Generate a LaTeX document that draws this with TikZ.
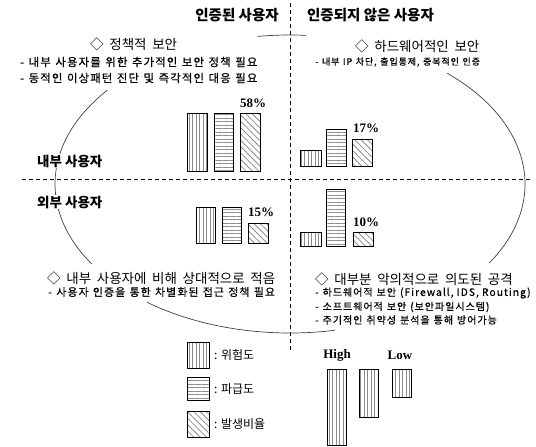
\documentclass[tikz,border=0pt]{standalone}
\usepackage{fontspec}
\setmainfont{Noto Sans CJK KR}
\newfontfamily\krfont{Noto Sans CJK KR}
\newfontfamily\krsub[LetterSpace=10,FakeBold=0.6]{Noto Sans CJK KR}
\newfontfamily\serifb{Liberation Serif}
\newcommand{\lat}[2]{{\krsub\fontsize{#1}{12}\selectfont\spaceskip=0.3em\relax #2}}
\newcommand{\myheadfont}{\krfont\fontsize{13.5}{15}\selectfont\spaceskip=0.42em\relax}
\newcommand{\mysubfont}{\krsub\fontsize{11.4}{13}\selectfont\spaceskip=0.4em\relax}
\newcommand{\mysubfontS}{\krsub\fontsize{10.9}{13}\selectfont\spaceskip=0.4em\relax}
\newcommand{\mysubfontR}{\krsub\fontsize{10}{12}\selectfont\spaceskip=0.4em\relax}
\newcommand{\mysubfontT}{\krsub\fontsize{9}{11}\selectfont\spaceskip=0.4em\relax}
\usetikzlibrary{patterns.meta}
\begin{document}
\begin{tikzpicture}[x=1pt,y=1pt,
  hdr/.style={font=\krfont\bfseries\fontsize{14.5}{16}\selectfont, inner sep=0pt},
  side/.style={font=\krfont\bfseries\fontsize{13.5}{15}\selectfont, inner sep=1pt, fill=white, anchor=west},
  head/.style={font=\myheadfont, inner sep=0pt, anchor=west},
  sub/.style={font=\mysubfont, inner sep=0pt, anchor=west},
  subR/.style={font=\mysubfontR, inner sep=0pt, anchor=west},
  pct/.style={font=\serifb\bfseries\fontsize{13}{15}\selectfont, inner sep=0pt},
  leg/.style={font=\krfont\fontsize{12}{14}\selectfont, inner sep=0pt, anchor=west},
  bar/.style={draw=black, line width=0.8pt},
  riskbar/.style={bar, pattern={Lines[angle=90,distance=3.5pt,line width=0.7pt]}, pattern color=black!45},
  spreadbar/.style={bar, pattern={Lines[angle=0,distance=3.5pt,line width=0.7pt]}, pattern color=black!45},
  ratebar/.style={bar, pattern={Lines[angle=-45,distance=4.5pt,line width=0.8pt]}, pattern color=black!45},
  divider/.style={dash pattern=on 4pt off 3pt, line width=0.8pt},
  ell/.style={line width=0.7pt, draw=black!75},
]
\useasboundingbox (0,0) rectangle (536,-447);

% dividers
\coordinate (vtop) at (290,-3);
\coordinate (vbot) at (290,-352);
\coordinate (hl) at (22,-179);
\coordinate (hr) at (532,-179);
\draw[divider] (vtop) -- (vbot);
\draw[divider] (hl) -- (hr);

% broken ellipse
\coordinate (ec) at (290,-184);
\draw[ell] ([shift={(86:235 and 149)}]ec) arc[start angle=86,end angle=98,x radius=235,y radius=149];
\draw[ell] ([shift={(-32:235 and 149)}]ec) arc[start angle=-32,end angle=48,x radius=235,y radius=149];
\draw[ell] ([shift={(-127.5:235 and 149)}]ec) arc[start angle=-127.5,end angle=-79,x radius=235,y radius=149];
\draw[ell] ([shift={(141:235 and 149)}]ec) arc[start angle=141,end angle=212.5,x radius=235,y radius=149];

% headers
\node[hdr] (hA) at (237,-15) {인증된 사용자};
\node[hdr] (hB) at (370.5,-15) {인증되지 않은 사용자};
\node[side] (inU) at (36,-161) {내부 사용자};
\node[side] (outU) at (36,-202) {외부 사용자};

% quadrant texts
\node[head] (h1) at (90,-44) {◇ 정책적 보안};
\node[sub] (s1a) at (20,-62) {- 내부 사용자를 위한 추가적인 보안 정책 필요};
\node[sub] (s1b) at (20,-78) {- 동적인 이상패턴 진단 및 즉각적인 대응 필요};

\node[head] (h2) at (355,-46) {◇ 하드웨어적인 보안};
\node[subR, font=\mysubfontT] (s2) at (315,-62) {- 내부 IP 차단, 출입통제, 중복적인 인증};

\node[head] (h3) at (47,-278) {◇ 내부 사용자에 비해 상대적으로 적음};
\node[sub, font=\mysubfontS] (s3) at (48,-292) {- 사용자 인증을 통한 차별화된 접근 정책 필요};

\node[head] (h4) at (315,-279) {◇ 대부분 악의적으로 의도된 공격};
\node[subR] (s4a) at (315,-293) {- 하드웨어적 보안 \lat{10.3}{(Firewall, IDS, Routing)}};
\node[subR] (s4b) at (315,-307) {- 소프트웨어적 보안 (보안파일시스템)};
\node[subR] (s4c) at (315,-320) {- 주기적인 취약성 분석을 통해 방어가능};

% bars: inner authenticated
\draw[riskbar] (187,-113) rectangle (207,-171);
\draw[spreadbar] (214,-113) rectangle (233,-171);
\draw[ratebar] (240,-113) rectangle (260,-171);
\node[pct] (p58) at (253,-103) {58\%};
% inner unauthenticated
\draw[riskbar] (300,-150) rectangle (321,-166);
\draw[spreadbar] (326,-129) rectangle (346,-166);
\draw[ratebar] (352,-139) rectangle (372,-166);
\node[pct] (p17) at (366,-128) {17\%};
% outer authenticated
\draw[riskbar] (196,-207) rectangle (215,-243);
\draw[spreadbar] (222,-207) rectangle (241,-243);
\draw[ratebar] (248,-223) rectangle (268,-243);
\node[pct] (p15) at (261,-212) {15\%};
% outer unauthenticated
\draw[riskbar] (300,-232) rectangle (321,-246);
\draw[spreadbar] (326,-189) rectangle (345,-246);
\draw[ratebar] (353,-232) rectangle (373,-246);
\node[pct] (p10) at (366,-222) {10\%};

% legend
\draw[riskbar] (187,-342) rectangle (209,-368);
\draw[spreadbar] (187,-377) rectangle (209,-400);
\draw[ratebar] (187,-411) rectangle (209,-437);
\node[leg] (l1) at (214,-355) {: 위험도};
\node[leg] (l2) at (214,-389) {: 파급도};
\node[leg] (l3) at (214,-424) {: 발생비율};

% high / low scale
\node[pct] (hi) at (337,-355) {High};
\node[pct] (lo) at (400,-355) {Low};
\draw[riskbar] (327,-369) rectangle (346,-445);
\draw[riskbar] (359,-369) rectangle (378,-417);
\draw[riskbar] (392,-369) rectangle (411,-397);
\end{tikzpicture}
\end{document}
